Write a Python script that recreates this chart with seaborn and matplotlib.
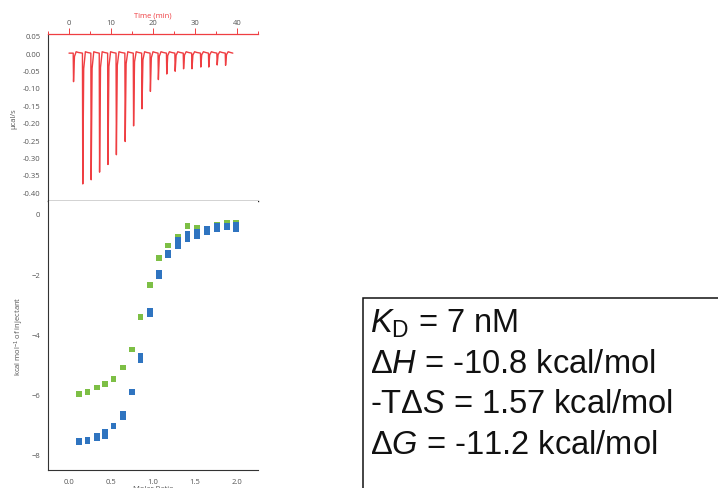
import matplotlib
matplotlib.use("Agg")
import matplotlib.pyplot as plt
from matplotlib.patches import Rectangle
from matplotlib.ticker import MultipleLocator, FormatStrFormatter
import pandas as pd
import seaborn as sns

# raw thermogram: injection times (min) and peak depths (ucal/s)
inj_time = [1.0, 3.2, 5.2, 7.2, 9.2, 11.2, 13.3, 15.3, 17.3, 19.3,
            21.2, 23.2, 25.2, 27.2, 29.2, 31.3, 33.2, 35.2, 37.2]
inj_depth = [-0.082, -0.376, -0.364, -0.342, -0.320, -0.292, -0.254, -0.209, -0.160, -0.110,
             -0.076, -0.060, -0.052, -0.045, -0.045, -0.040, -0.040, -0.034, -0.035]
run_start, run_end = 0.0, 39.0

# integrated heats (kcal/mol of injectant)
molar_ratio = [0.12, 0.22, 0.33, 0.43, 0.53, 0.64, 0.75, 0.85, 0.96,
               1.07, 1.18, 1.30, 1.41, 1.52, 1.64, 1.76, 1.88, 1.99]
heat_green = [-5.97, -5.90, -5.76, -5.65, -5.49, -5.10, -4.50, -3.43, -2.35,
              -1.46, -1.05, -0.75, -0.41, -0.46, -0.48, -0.37, -0.31, -0.28]
heat_blue_a = [-7.52, -7.51, -7.36, -7.24, -7.04, -6.62, -5.91, -4.72, -3.22,
               -1.97, -1.30, -0.86, -0.66, -0.60, -0.50, -0.40, -0.41, -0.37]
heat_blue_b = [-7.58, -7.53, -7.44, -7.36, -7.06, -6.75, -5.93, -4.84, -3.33,
               -2.08, -1.38, -1.06, -0.84, -0.72, -0.60, -0.52, -0.44, -0.50]

summary_lines = [r"$K_\mathrm{D}$ = 7 nM",
                 r"Δ$H$ = -10.8 kcal/mol",
                 r"-TΔ$S$ = 1.57 kcal/mol",
                 r"Δ$G$ = -11.2 kcal/mol"]

RED = "#ef3e42"
GREEN = "#7dbf45"
BLUE = "#2f74c0"
GREY = "#555555"

sns.set_theme(style="white")
plt.rcParams["font.family"] = ["Open Sans", "DejaVu Sans"]
plt.rcParams["mathtext.fontset"] = "custom"
plt.rcParams["mathtext.rm"] = "Liberation Sans"
plt.rcParams["mathtext.it"] = "Liberation Sans:italic"

# build the trace polyline from the injections
tt, yy = [run_start], [0.0]
for t, d in zip(inj_time, inj_depth):
    tt += [t, t + 0.08, t + 0.3, t + 0.7, t + 1.2]
    yy += [0.0, d, d * 0.12, 0.004, 0.002]
tt.append(run_end)
yy.append(0.0)
trace = pd.DataFrame({"time": tt, "power": yy})

heats = pd.concat([
    pd.DataFrame({"ratio": molar_ratio, "heat": heat_green, "set": "green"}),
    pd.DataFrame({"ratio": molar_ratio, "heat": heat_blue_a, "set": "blue"}),
    pd.DataFrame({"ratio": molar_ratio, "heat": heat_blue_b, "set": "blue"}),
])

fig = plt.figure(figsize=(7.18, 4.89), dpi=100)
ax1 = fig.add_axes([48 / 718, 1 - 202 / 489, 210 / 718, 167 / 489])
ax2 = fig.add_axes([48 / 718, 1 - 471 / 489, 210 / 718, 269 / 489])

sns.lineplot(data=trace, x="time", y="power", sort=False, estimator=None,
             color=RED, linewidth=1.0, ax=ax1)
sns.scatterplot(data=heats, x="ratio", y="heat", hue="set",
                palette={"green": GREEN, "blue": BLUE}, marker="s", s=17,
                linewidth=0, legend=False, ax=ax2)

tick_kw = dict(labelsize=5.5, labelcolor=GREY, width=0.7, pad=1.5)

# top panel
ax1.set_xlim(-5, 45)
ax1.set_ylim(-0.425, 0.055)
ax1.xaxis.set_ticks_position("top")
ax1.xaxis.set_label_position("top")
ax1.xaxis.set_major_locator(MultipleLocator(10))
ax1.xaxis.set_minor_locator(MultipleLocator(5))
ax1.yaxis.set_major_locator(MultipleLocator(0.05))
ax1.yaxis.set_minor_locator(MultipleLocator(0.025))
ax1.yaxis.set_major_formatter(FormatStrFormatter("%.2f"))
ax1.tick_params(axis="x", which="both", direction="out", colors=RED, **tick_kw)
ax1.tick_params(axis="x", which="major", length=4)
ax1.tick_params(axis="x", which="minor", length=2.5, width=0.7)
ax1.tick_params(axis="y", which="both", direction="out", color="#333333", **tick_kw)
ax1.tick_params(axis="y", which="major", length=4)
ax1.tick_params(axis="y", which="minor", length=2, width=0.7)
ax1.set_xlabel("Time (min)", fontsize=5.5, color=RED, labelpad=2)
ax1.set_ylabel("µcal/s", fontsize=5.5, color=GREY, labelpad=4)
ax1.spines["right"].set_visible(False)
ax1.spines["top"].set_color(RED)
ax1.spines["top"].set_linewidth(0.9)
ax1.spines["left"].set_color("#333333")
ax1.spines["left"].set_linewidth(0.8)
ax1.spines["bottom"].set_color("#222222")
ax1.spines["bottom"].set_linewidth(1.0)

# bottom panel
ax2.set_xlim(-0.25, 2.25)
ax2.set_ylim(-8.5, 0.43)
ax2.xaxis.set_major_locator(MultipleLocator(0.5))
ax2.xaxis.set_minor_locator(MultipleLocator(0.25))
ax2.xaxis.set_major_formatter(FormatStrFormatter("%.1f"))
ax2.yaxis.set_major_locator(MultipleLocator(2))
ax2.yaxis.set_minor_locator(MultipleLocator(1))
ax2.tick_params(axis="both", which="both", direction="out", color="#333333", **tick_kw)
ax2.tick_params(axis="both", which="major", length=4)
ax2.tick_params(axis="both", which="minor", length=2, width=0.7)
ax2.set_xlabel("Molar Ratio", fontsize=5.5, color=GREY, labelpad=0.5)
ax2.set_ylabel("kcal mol$^{-1}$ of injectant", fontsize=5.5, color=GREY, labelpad=4)
ax2.spines["right"].set_visible(False)
ax2.spines["top"].set_visible(False)
for side in ["left", "bottom"]:
    ax2.spines[side].set_color("#333333")
    ax2.spines[side].set_linewidth(0.8)

# summary box
fig.patches.append(Rectangle((363 / 718, -0.02), 0.52, 1 - 299 / 489 + 0.02,
                             transform=fig.transFigure, fill=False,
                             edgecolor="#111111", linewidth=1.1))
baselines = [332.5, 373.0, 413.5, 454.0]
for line, yb in zip(summary_lines, baselines):
    fig.text(370 / 718, 1 - yb / 489, line, fontsize=23.5, va="baseline",
             ha="left", family=["Liberation Sans", "DejaVu Sans"], color="#111111")

fig.savefig("out.png", dpi=100)
